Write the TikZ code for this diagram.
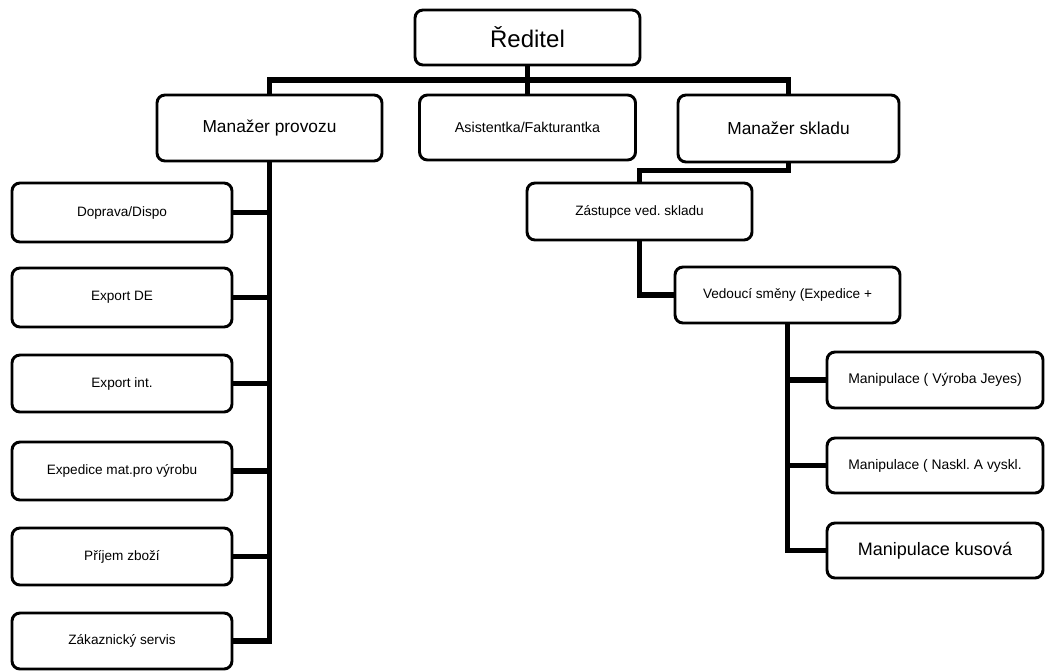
\documentclass[tikz,border=0pt]{standalone}
\usepackage{fontspec}
\setmainfont{Liberation Sans}
\frenchspacing
\begin{document}
\begin{tikzpicture}[x=0.75pt,y=-0.75pt,
  box/.style={draw=black, line width=2.2pt, rounded corners=6pt, fill=white, inner sep=0pt, align=center},
  wh/.style 2 args={minimum width=#1*0.75pt, minimum height=#2*0.75pt},
  fs/.style={font=\fontsize{#1}{#1}\selectfont\frenchspacing},
  conn/.style={draw=black, line width=3.8pt}]
\useasboundingbox (0,0) rectangle (1045,671);
\fill[white] (0,0) rectangle (1045,671);
% top level
\node[box, wh={225}{55}, fs=18pt] (red) at (527.5,37.5) {Ředitel};
\node[box, wh={225}{66}, fs=13pt] (mp) at (269.5,128) {Manažer provozu};
\node[box, wh={216}{65}, fs=10.7pt] (as) at (527.5,127.5) {Asistentka/Fakturantka};
\node[box, wh={221}{67}, fs=13pt] (ms) at (788.5,128.5) {Manažer skladu};
% left column
\node[box, wh={220}{59}, fs=10.2pt] (dop) at (122,212.5) {Doprava/Dispo};
\node[box, wh={220}{59}, fs=10.2pt] (exde) at (122,297.5) {Export DE};
\node[box, wh={220}{57}, fs=10.2pt] (exin) at (122,383.5) {Export int.};
\node[box, wh={220}{58}, fs=10.2pt] (exp) at (122,471) {Expedice mat.pro výrobu};
\node[box, wh={220}{57}, fs=10.2pt] (pri) at (122,556.5) {Příjem zboží};
\node[box, wh={220}{56}, fs=10.2pt] (zak) at (122,641) {Zákaznický servis};
% right branch
\node[box, wh={225}{57}, fs=10.2pt] (zas) at (639.5,211.5) {Zástupce ved. skladu};
\node[box, wh={225}{56}, fs=10.2pt] (ved) at (787.5,295) {Vedoucí směny (Expedice +};
\node[box, wh={216}{56}, fs=10.5pt] (m1) at (935,380) {Manipulace ( Výroba Jeyes)};
\node[box, wh={216}{55}, fs=10.4pt] (m2) at (935,465.5) {Manipulace ( Naskl. A vyskl.};
\node[box, wh={216}{55}, fs=13.5pt] (m3) at (935,550.5) {Manipulace kusová};
% connectors
\coordinate (bary) at (0,80);
\draw[conn] (red.south) -- (as.north);
\draw[conn] (mp.north) -- (mp.north |- bary) -| (ms.north);
\draw[conn] (mp.south) |- (zak.east);
\foreach \n in {dop,exde,exin,exp,pri} \draw[conn] (\n.east) -- (\n.east -| mp.south);
\draw[conn] (ms.south) -- ++(0,7) -| (zas.north);
\draw[conn] (zas.south) |- (ved.west);
\draw[conn] (ved.south) |- (m3.west);
\foreach \n in {m1,m2} \draw[conn] (\n.west) -- (\n.west -| ved.south);
\end{tikzpicture}
\end{document}
